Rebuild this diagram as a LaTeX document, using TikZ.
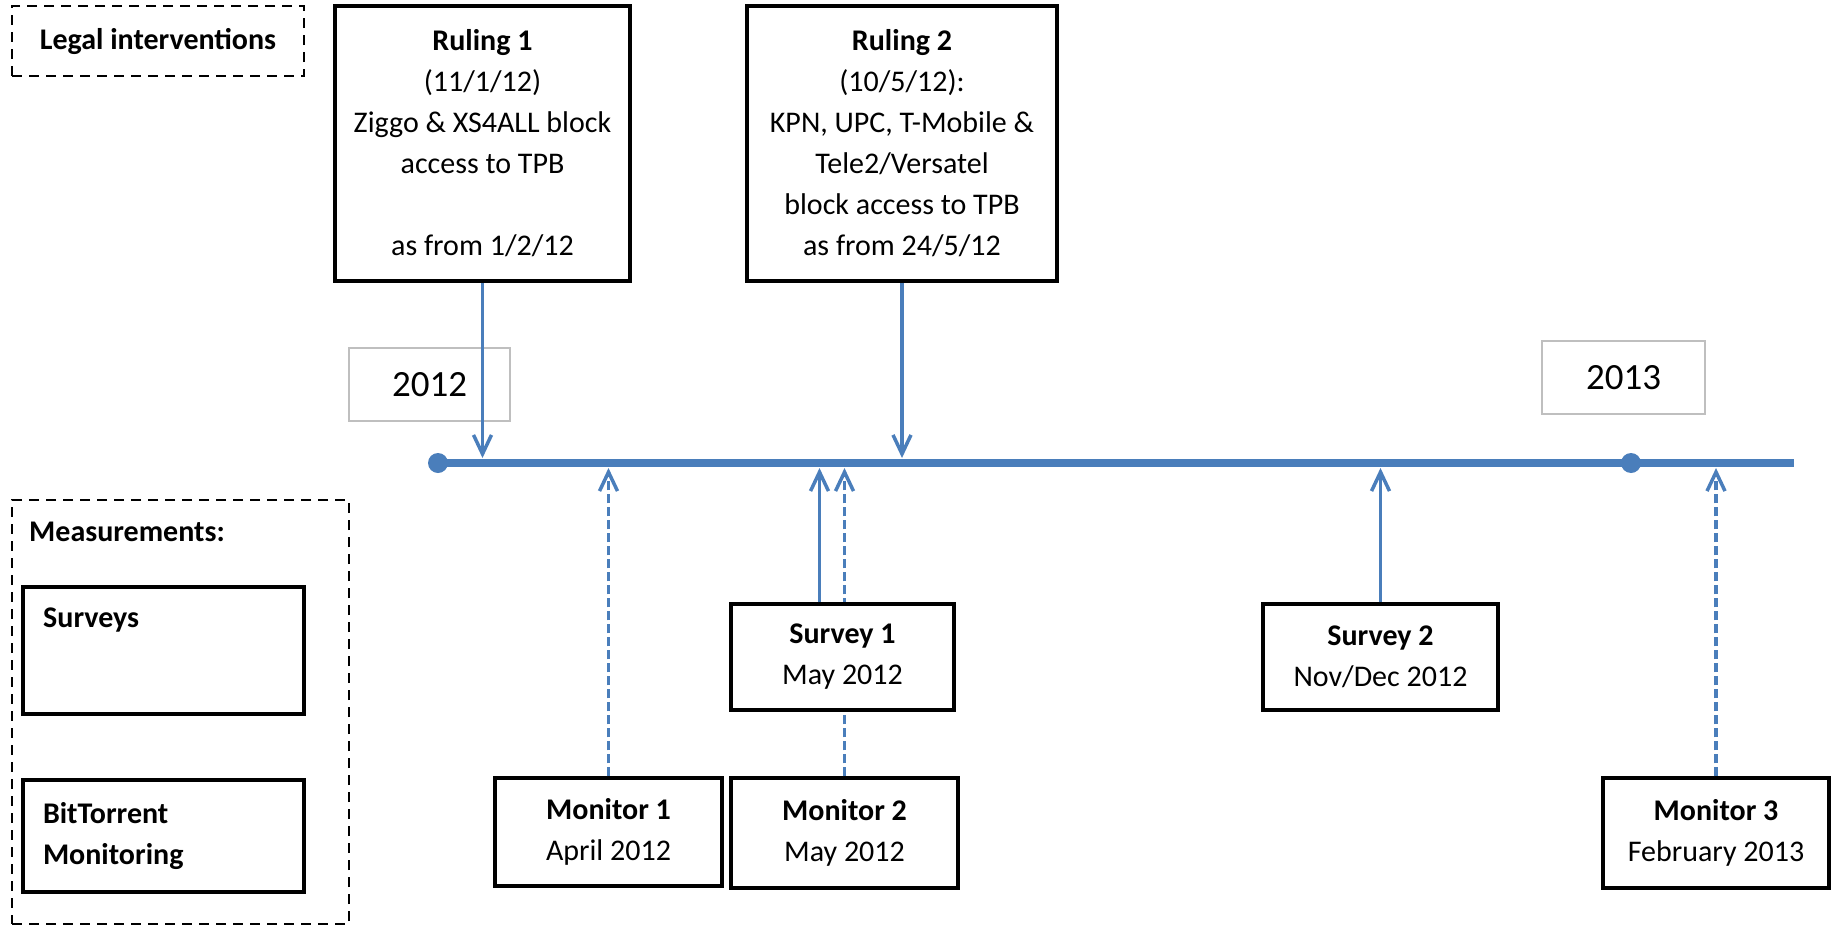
\documentclass[tikz,border=0pt]{standalone}
\usepackage{fontspec}
\setmainfont{Carlito}
\usetikzlibrary{arrows.meta}
\definecolor{lineblue}{RGB}{74,126,187}

\begin{document}
\begin{tikzpicture}[
		x=1pt, y=-1pt,
		every node/.style={font=\fontsize{30}{41}\selectfont, align=center, inner sep=0pt},
		box/.style={draw=black, line width=3.5pt, fill=white},
		dashbox/.style={draw=black, line width=2.5pt, dash pattern=on 10pt off 7pt},
		yearbox/.style={draw=black!25, line width=1.5pt, font=\fontsize{37}{44}\selectfont},
		timeline/.style={draw=lineblue, line width=8pt},
		event/.style={draw=lineblue, line width=3.5pt, -{Straight Barb[length=19pt,width=18pt]}},
		monitor/.style={event, dash pattern=on 9pt off 4pt}
	]
	\useasboundingbox (0,0) rectangle (1835,926);
	\node[dashbox, minimum width=292pt, minimum height=70pt] (legal) at (158,41) {\textbf{Legal interventions}};
	\node[box, minimum width=295pt, minimum height=275pt] (rul1) at (482.5,143.5) {\textbf{Ruling 1}\\(11/1/12)\\Ziggo \& XS4ALL block\\access to TPB\\[41pt]as from 1/2/12};
	\node[box, minimum width=310pt, minimum height=275pt] (rul2) at (902,143.5) {\textbf{Ruling 2}\\(10/5/12):\\KPN, UPC, T-Mobile \&\\Tele2/Versatel\\block access to TPB\\as from 24/5/12};
	\node[yearbox, minimum width=161pt, minimum height=73pt] (y2012) at (429.5,384.5) {2012};
	\node[yearbox, minimum width=163pt, minimum height=73pt] (y2013) at (1623.5,377.5) {2013};

	\coordinate (t12) at (438,463);
	\coordinate (t13) at (1631,463);
	\coordinate (tend) at (1794,463);
	\coordinate (top) at (0,458);
	\coordinate (bot) at (0,468);
	\draw[timeline] (t12) -- (tend);
	\fill[lineblue] (t12) circle (10pt) (t13) circle (10pt);
	\draw[event] (rul1.south) -- (rul1.south |- top);
	\draw[event] (rul2.south) -- (rul2.south |- top);

	\node[box, minimum width=227pt, minimum height=108pt] (mon1) at (608.5,832) {\textbf{Monitor 1}\\April 2012};
	\node[box, minimum width=227pt, minimum height=110pt] (mon2) at (844.5,833) {\textbf{Monitor 2}\\May 2012};
	\node[box, minimum width=226pt, minimum height=110pt] (mon3) at (1716,833) {\textbf{Monitor 3}\\February 2013};
	\draw[monitor] (mon1.north) -- (mon1.north |- bot);
	\draw[monitor] (mon2.north) -- (mon2.north |- bot);
	\draw[monitor] (mon3.north) -- (mon3.north |- bot);
	\node[box, minimum width=223pt, minimum height=106pt] (sur1) at (842.5,657) {\textbf{Survey 1}\\May 2012};
	\node[box, minimum width=235pt, minimum height=106pt] (sur2) at (1380.5,657) {\textbf{Survey 2}\\Nov/Dec 2012};
	\coordinate (s1a) at ([xshift=-23pt]sur1.north);
	\draw[event] (s1a) -- (s1a |- bot);
	\draw[event] (sur2.north) -- (sur2.north |- bot);

	\node[dashbox, minimum width=337pt, minimum height=424pt] (meas) at (180.5,712) {};
	\node[anchor=west] (meastext) at (29,532) {\textbf{Measurements:}};
	\node[box, minimum width=281pt, minimum height=127pt] (survkey) at (163.5,650.5) {};
	\node[anchor=west] (survtext) at (43,620) {\textbf{Surveys}};
	\node[box, minimum width=281pt, minimum height=112pt, text width=241pt, align=left] (btkey) at (163.5,836) {\textbf{BitTorrent}\\\textbf{Monitoring}};
\end{tikzpicture}
\end{document}
